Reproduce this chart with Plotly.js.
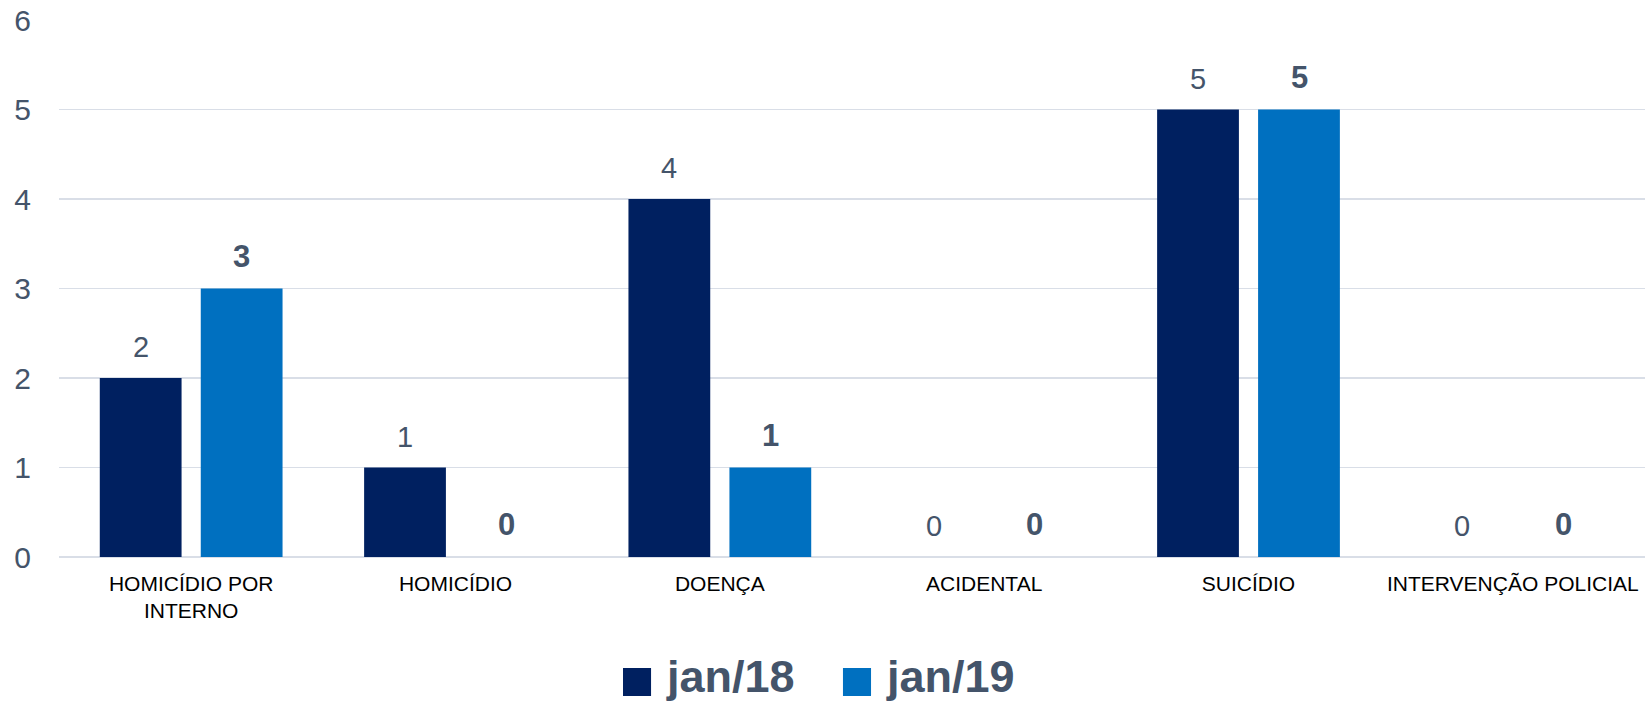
<!DOCTYPE html>
<html>
<head>
<meta charset="utf-8">
<script src="https://cdn.plot.ly/plotly-3.0.1.min.js"></script>
<style>html,body{margin:0;padding:0;background:#fff;}#chart{width:1647px;height:702px;}</style>
</head>
<body>
<div id="chart"></div>
<script>
const categories = ["HOMICÍDIO POR<br>INTERNO", "HOMICÍDIO", "DOENÇA", "ACIDENTAL", "SUICÍDIO", "INTERVENÇÃO POLICIAL"];
const seriesNames = ["jan/18", "jan/19"];
const jan18 = [2, 1, 4, 0, 5, 0];
const jan19 = [3, 0, 1, 0, 5, 0];
const yTicks = [0, 1, 2, 3, 4, 5, 6];

const colors = ["#002060", "#0070C0"];
const labelColor = "#44546A";
const values = [jan18, jan19];

const traces = values.map((v, i) => ({
  type: "bar",
  name: seriesNames[i],
  x: categories,
  y: v,
  marker: {color: colors[i]},
  showlegend: false,
  hoverinfo: "x+y+name"
}));

const annotations = [];
values.forEach((v, i) => {
  v.forEach((val, j) => {
    annotations.push({
      x: categories[j], y: val, xref: "x", yref: "y",
      text: String(val), showarrow: false,
      xshift: i === 0 ? -50.5 : 50.5, yshift: 13, yanchor: "bottom",
      font: {family: "Liberation Sans, Arial, sans-serif", size: i === 0 ? 29 : 31, color: labelColor, weight: i === 0 ? "normal" : "bold"}
    });
  });
});

// custom legend
const shapes = [];
const legX = [0.3556, 0.4943];
seriesNames.forEach((n, i) => {
  shapes.push({type: "rect", xref: "paper", yref: "paper", x0: legX[i], x1: legX[i] + 0.0177, y0: -0.2588, y1: -0.2067, fillcolor: colors[i], line: {width: 0}});
  annotations.push({
    xref: "paper", yref: "paper", x: legX[i] + 0.026, y: -0.222, xanchor: "left", yanchor: "middle",
    text: "<b>" + n + "</b>", showarrow: false,
    font: {family: "Liberation Sans, Arial, sans-serif", size: 45, color: labelColor}
  });
});

const layout = {
  width: 1647, height: 702,
  margin: {l: 59, r: 2, t: 20, b: 145},
  paper_bgcolor: "#ffffff", plot_bgcolor: "#ffffff",
  barmode: "group", bargap: 0.236, bargroupgap: 0.19,
  font: {family: "Liberation Sans, Arial, sans-serif"},
  xaxis: {
    tickfont: {size: 21, color: "#000000"},
    showgrid: false, showline: false, ticks: "", ticklabelstandoff: 12
  },
  yaxis: {
    range: [0, 6], tickvals: yTicks, ticktext: yTicks.map(String),
    tickfont: {size: 30, color: labelColor},
    gridcolor: "#D9DEE7", gridwidth: 1.5, zeroline: true, zerolinecolor: "#D9DEE7", zerolinewidth: 1.5,
    showline: false, ticks: "", ticklabelstandoff: 27
  },
  annotations: annotations,
  shapes: shapes,
  showlegend: false
};

Plotly.newPlot("chart", traces, layout, {displayModeBar: false, staticPlot: true});
</script>
</body>
</html>
